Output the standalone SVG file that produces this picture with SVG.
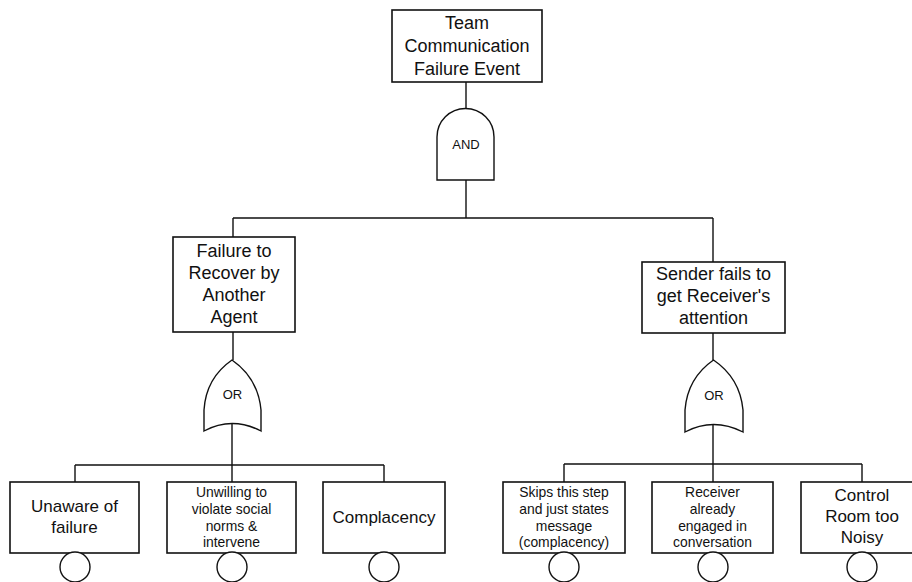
<svg xmlns="http://www.w3.org/2000/svg" width="912" height="582" viewBox="0 0 912 582">
<style>
.box{fill:#fff;stroke:#111;stroke-width:1.6}
.gate{fill:#fff;stroke:#111;stroke-width:1.4}
.circ{fill:#fff;stroke:#111;stroke-width:1.4}
.ln{fill:none;stroke:#111;stroke-width:1.4}
text{font-family:"Liberation Sans",Arial,Helvetica,sans-serif;fill:#111;text-anchor:middle}
.big{font-size:18px}
.mid{font-size:17px}
.sm{font-size:13.9px}
.g{font-size:13px}
</style>
<rect width="912" height="582" fill="#fff"/>
<g id="connectors">
<path class="ln" d="M466,82 V109"/>
<path class="ln" d="M466,180 V218 M233,218 H713 M233,218 V237 M713,218 V262"/>
<path class="ln" d="M233,332 V360 M713,333 V360"/>
<path class="ln" d="M232,424 V465 M75,465 H384 M75,465 V482 M232,465 V482 M384,465 V482"/>
<path class="ln" d="M713,425 V464 M564,464 H862 M564,464 V482 M713,464 V482 M862,464 V482"/>
</g>
<g id="top-event">
<rect class="box" x="392" y="10" width="150" height="72"/>
<text class="big" x="467" y="29">Team</text>
<text class="big" x="467" y="52">Communication</text>
<text class="big" x="467" y="75">Failure Event</text>
</g>
<g id="and-gate">
<path class="gate" d="M437,180 V137 A28.5,28.5 0 0 1 494,137 V180 Z"/>
<text class="g" x="466" y="149">AND</text>
</g>
<g id="failure-recover">
<rect class="box" x="173" y="237" width="122" height="95"/>
<text class="big" x="234" y="257">Failure to</text>
<text class="big" x="234" y="279">Recover by</text>
<text class="big" x="234" y="301">Another</text>
<text class="big" x="234" y="323">Agent</text>
</g>
<g id="sender-fails">
<rect class="box" x="642" y="262" width="143" height="71"/>
<text class="big" x="713.5" y="280">Sender fails to</text>
<text class="big" x="713.5" y="302">get Receiver's</text>
<text class="big" x="713.5" y="324">attention</text>
</g>
<g id="or-left">
<path class="gate" d="M232,360 Q206,378 204,410 V431 Q232,416 261,431 V410 Q258,378 232,360 Z"/>
<text class="g" x="232.5" y="399">OR</text>
</g>
<g id="or-right">
<path class="gate" d="M713.5,360 Q687.5,378 685,410 V432 Q713.5,417 743,432 V410 Q740,378 713.5,360 Z"/>
<text class="g" x="714" y="400">OR</text>
</g>
<g id="unaware">
<rect class="box" x="10" y="482" width="129" height="71"/>
<text class="mid" x="74.5" y="512">Unaware of</text>
<text class="mid" x="74.5" y="533">failure</text>
<circle class="circ" cx="75" cy="567" r="15"/>
</g>
<g id="unwilling">
<rect class="box" x="167" y="482" width="129" height="71"/>
<text class="sm" x="231.5" y="497">Unwilling to</text>
<text class="sm" x="231.5" y="514">violate social</text>
<text class="sm" x="231.5" y="530.5">norms &amp;</text>
<text class="sm" x="231.5" y="547">intervene</text>
<circle class="circ" cx="232" cy="567" r="15"/>
</g>
<g id="complacency">
<rect class="box" x="323" y="482" width="122" height="71"/>
<text class="mid" x="384" y="523">Complacency</text>
<circle class="circ" cx="384" cy="567" r="15"/>
</g>
<g id="skips">
<rect class="box" x="503" y="482" width="122" height="71"/>
<text class="sm" x="564" y="497">Skips this step</text>
<text class="sm" x="564" y="514">and just states</text>
<text class="sm" x="564" y="530.5">message</text>
<text class="sm" x="564" y="547">(complacency)</text>
<circle class="circ" cx="564" cy="567" r="15"/>
</g>
<g id="receiver-engaged">
<rect class="box" x="652" y="482" width="121" height="71"/>
<text class="sm" x="712.5" y="497">Receiver</text>
<text class="sm" x="712.5" y="514">already</text>
<text class="sm" x="712.5" y="530.5">engaged in</text>
<text class="sm" x="712.5" y="547">conversation</text>
<circle class="circ" cx="713" cy="567" r="15"/>
</g>
<g id="noisy">
<rect class="box" x="801" y="482" width="122" height="71"/>
<text class="mid" x="862" y="501">Control</text>
<text class="mid" x="862" y="522">Room too</text>
<text class="mid" x="862" y="543">Noisy</text>
<circle class="circ" cx="862" cy="567" r="15"/>
</g>
</svg>
